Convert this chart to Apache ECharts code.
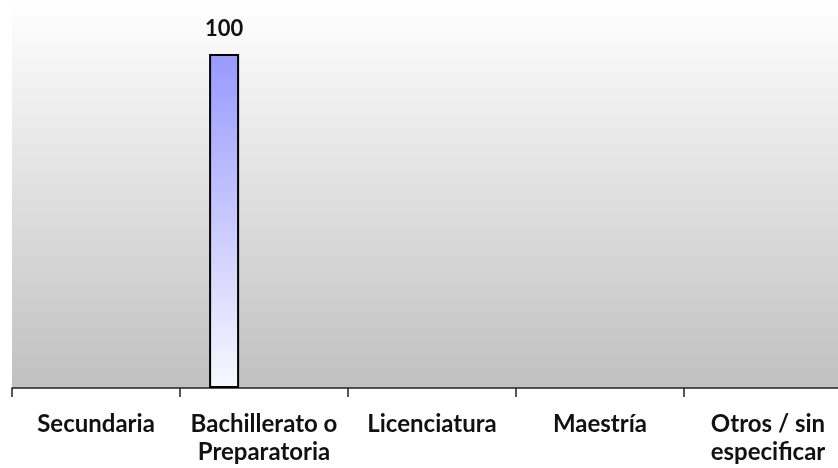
<!DOCTYPE html>
<html><head><meta charset="utf-8">
<script src="https://cdn.jsdelivr.net/npm/echarts@6/dist/echarts.min.js"></script>
<style>html,body{margin:0;padding:0;background:#fff;overflow:hidden;width:838px;height:468px}#c{width:852px;height:468px}</style>
</head><body><div id="c"></div>
<script>
var categories = ['Secundaria', 'Bachillerato o\nPreparatoria', 'Licenciatura', 'Maestría', 'Otros / sin\nespecificar'];
var seriesA = [null, 100, null, null, null];
var seriesB = [null, null, null, null, null];
var seriesC = [null, null, null, null, null];

var chart = echarts.init(document.getElementById('c'));
var barStyle = {
  color: new echarts.graphic.LinearGradient(0, 0, 0, 1, [
    {offset: 0, color: '#9999ff'}, {offset: 1, color: '#f8f8ff'}]),
  borderColor: '#000', borderWidth: 2
};
chart.setOption({
  animation: false,
  grid: {
    left: 12, right: 0, top: 0, height: 388, show: true, borderWidth: 0,
    backgroundColor: new echarts.graphic.LinearGradient(0, 0, 0, 1, [
      {offset: 0, color: '#ffffff'}, {offset: 1, color: '#c0c0c0'}])
  },
  xAxis: {
    type: 'category', data: categories,
    axisLine: {lineStyle: {color: '#222', width: 1.5}},
    axisTick: {show: true, length: 9, lineStyle: {color: '#222', width: 1.5}},
    axisLabel: {
      interval: 0, margin: 22, color: '#111', fontFamily: 'Lato', fontWeight: 'bold',
      fontSize: 24, lineHeight: 28
    }
  },
  yAxis: {type: 'value', min: 0, max: 116.2, show: false, splitLine: {show: false}},
  series: [
    {type: 'bar', data: seriesA, barWidth: 30, barGap: '33%', itemStyle: barStyle,
     label: {show: true, position: 'top', distance: 14, color: '#111', fontFamily: 'Lato', fontWeight: 'bold', fontSize: 22}},
    {type: 'bar', data: seriesB, barWidth: 30, itemStyle: barStyle},
    {type: 'bar', data: seriesC, barWidth: 30, itemStyle: barStyle}
  ]
});
</script></body></html>
